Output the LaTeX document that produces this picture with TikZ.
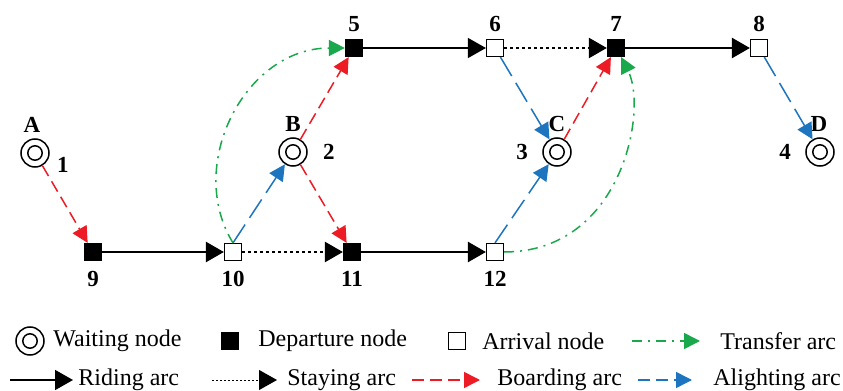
\documentclass[tikz,border=0pt]{standalone}
\usepackage{fontspec}
\setmainfont{Liberation Serif}
\usetikzlibrary{arrows.meta}
\definecolor{boardred}{RGB}{237,28,36}
\definecolor{alightblue}{RGB}{28,117,190}
\definecolor{transgreen}{RGB}{26,168,76}

\begin{document}
\begin{tikzpicture}[x=0.5pt,y=-0.5pt,
   wait/.style={circle,draw,line width=0.75pt,minimum size=14pt,inner sep=0pt,
      path picture={\draw[line width=0.75pt] (path picture bounding box.center) circle (3.6pt);}},
   dep/.style={rectangle,draw,fill=black,line width=0.6pt,minimum size=8.5pt,inner sep=0pt},
   arv/.style={rectangle,draw,fill=white,line width=0.6pt,minimum size=8.5pt,inner sep=0pt},
   lbl/.style={font=\fontsize{11.5}{13}\selectfont\bfseries,inner sep=1pt},
   legtxt/.style={anchor=west,inner sep=0pt,font=\fontsize{12}{14}\selectfont},
   tip/.style={-{Triangle[length=9pt,width=10pt]}},
   ctip/.style={-{Triangle[length=8pt,width=8pt]}},
   riding/.style={tip,line width=1.2pt},
   staying/.style={tip,line width=1.1pt,dash pattern=on 1.5pt off 1.5pt},
   boarding/.style={ctip,boardred,line width=0.75pt,dash pattern=on 6pt off 3pt},
   alighting/.style={ctip,alightblue,line width=0.75pt,dash pattern=on 11pt off 4pt},
   transfer/.style={ctip,transgreen,line width=0.75pt,dash pattern=on 5pt off 3pt on 1pt off 3pt}]
   \useasboundingbox (0,0) rectangle (843,391);

   % waiting nodes
   \node[wait,label={[lbl,label distance=1.5pt,xshift=-1.5pt]above:A},label={[lbl,label distance=2.5pt]-5:1}] (w1) at (35,153) {};
   \node[wait,label={[lbl,label distance=1.5pt]above:B},label={[lbl,label distance=6.5pt]0:2}] (w2) at (293,152) {};
   \node[wait,label={[lbl,label distance=1.5pt]above:C},label={[lbl,label distance=6pt]180:3}] (w3) at (557,152) {};
   \node[wait,label={[lbl,label distance=1.5pt,xshift=-0.5pt]above:D},label={[lbl,label distance=6pt]180:4}] (w4) at (820,152) {};

   % departure and arrival nodes
   \node[dep,label={[lbl,label distance=2.5pt]above:5}] (n5) at (354,48) {};
   \node[arv,label={[lbl,label distance=2.5pt]above:6}] (n6) at (495,48) {};
   \node[dep,label={[lbl,label distance=2.5pt]above:7}] (n7) at (616,48) {};
   \node[arv,label={[lbl,label distance=2.5pt]above:8}] (n8) at (759,48) {};
   \node[dep,label={[lbl,label distance=4pt]below:9}] (n9) at (93,252) {};
   \node[arv,label={[lbl,label distance=4pt]below:10}] (n10) at (233,252) {};
   \node[dep,label={[lbl,label distance=4pt]below:11}] (n11) at (352,252) {};
   \node[arv,label={[lbl,label distance=4pt]below:12}] (n12) at (495,252) {};

   % riding and staying arcs
   \draw[riding,line width=0.6pt] (n5) -- (n6);
   \draw[staying] (n6) -- (n7);
   \draw[riding] (n7) -- (n8);
   \draw[riding] (n9) -- (n10);
   \draw[staying] (n10) -- (n11);
   \draw[riding] (n11) -- (n12);

   % boarding and alighting arcs
   \draw[boarding] (w1) -- (n9);
   \draw[boarding] (w2) -- (n5);
   \draw[boarding] (w2) -- (n11);
   \draw[boarding] (w3) -- ([xshift=2pt]n7.south west);
   \draw[alighting] (n10.north) -- (w2);
   \draw[alighting] (n6) -- (w3);
   \draw[alighting] (n12.north) -- (w3);
   \draw[alighting] (n8) -- (w4);

   % transfer arcs
   \draw[transfer] (n10.north) .. controls (185,165) and (245,48) .. (n5.west);
   \draw[transfer] (n12.east) .. controls (622,252) and (648,110) .. ([xshift=-2pt]n7.south east);

   % legend
   \node[wait] (lw) at (30,341) {};
   \node[legtxt] (tw) at (53,341) {Waiting node};
   \node[dep] (ld) at (230,341) {};
   \node[legtxt] (td) at (258,341) {Departure node};
   \node[arv] (la) at (457,341) {};
   \node[legtxt] (ta) at (482,341) {Arrival node};
   \coordinate (t1) at (632,341);
   \coordinate (t2) at (700,341);
   \draw[transfer] (t1) -- (t2);
   \node[legtxt] (tt) at (720,341) {Transfer arc};

   \coordinate (r1) at (10,380);
   \coordinate (r2) at (73,380);
   \draw[riding,line width=0.8pt] (r1) -- (r2);
   \node[legtxt] (tr) at (78,380) {Riding arc};
   \coordinate (s1) at (212,380);
   \coordinate (s2) at (277,380);
   \draw[staying,line width=0.5pt,dash pattern=on 1pt off 1pt] (s1) -- (s2);
   \node[legtxt] (ts) at (287,380) {Staying arc};
   \coordinate (b1) at (412,380);
   \coordinate (b2) at (480,380);
   \draw[boarding] (b1) -- (b2);
   \node[legtxt] (tb) at (497,380) {Boarding arc};
   \coordinate (a1) at (638,380);
   \coordinate (a2) at (692,380);
   \draw[alighting,dash pattern=on 6pt off 3pt on 6pt off 3pt on 30pt off 0pt] (a1) -- (a2);
   \node[legtxt] (tal) at (713,380) {Alighting arc};
 \end{tikzpicture}
\end{document}
